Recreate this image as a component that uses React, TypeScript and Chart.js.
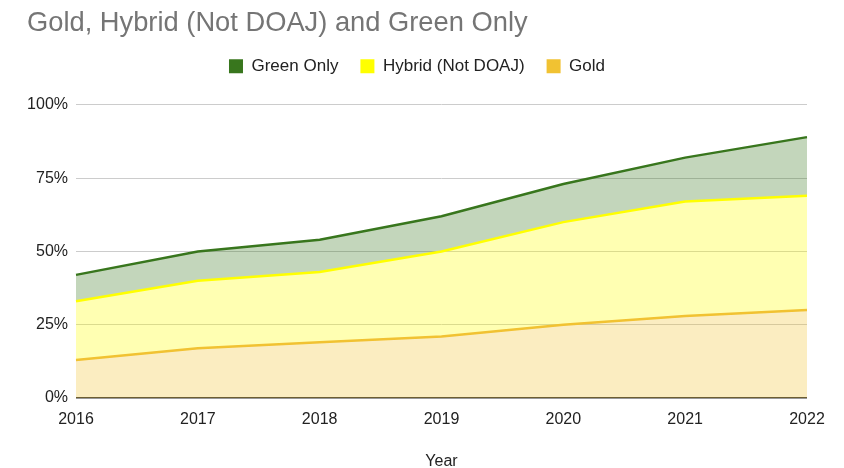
import React, { useEffect, useRef } from "react";
import { Chart, registerables } from "chart.js";

Chart.register(...registerables);

const years = ["2016", "2017", "2018", "2019", "2020", "2021", "2022"];
const goldValues = [13, 17, 19, 21, 25, 28, 30];
const hybridValues = [20, 23, 24, 29, 35, 39, 39];
const greenValues = [9, 10, 11, 12, 13, 15, 20];
const yTicks = [0, 25, 50, 75, 100];

const FONT = "'Liberation Sans', Arial, sans-serif";

export default function App() {
  const ref = useRef<HTMLCanvasElement | null>(null);
  useEffect(() => {
    if (!ref.current) return;
    const chart = new Chart(ref.current, {
      type: "line",
      data: {
        labels: years,
        datasets: [
          {
            label: "Gold",
            data: goldValues,
            borderColor: "#f1c232",
            backgroundColor: "rgba(241,194,50,0.3)",
            fill: "origin",
            borderWidth: 2.5,
            pointRadius: 0,
            tension: 0,
          },
          {
            label: "Hybrid (Not DOAJ)",
            data: hybridValues,
            borderColor: "#ffff00",
            backgroundColor: "rgba(255,255,0,0.3)",
            fill: "-1",
            borderWidth: 2.5,
            pointRadius: 0,
            tension: 0,
          },
          {
            label: "Green Only",
            data: greenValues,
            borderColor: "#38761d",
            backgroundColor: "rgba(56,118,29,0.3)",
            fill: "-1",
            borderWidth: 2.5,
            pointRadius: 0,
            tension: 0,
          },
        ],
      },
      options: {
        responsive: false,
        animation: false,
        layout: { padding: { left: 27, right: 37, top: 0, bottom: 0 } },
        plugins: {
          title: {
            display: true,
            text: "Gold, Hybrid (Not DOAJ) and Green Only",
            align: "start",
            color: "#757575",
            font: { family: FONT, size: 27.3, weight: "normal", lineHeight: 0.9 },
            padding: { top: 11.3, bottom: 0 },
          },
          subtitle: {
            display: true,
            text: "",
            weight: 500,
            font: { size: 1, lineHeight: 1 },
            padding: { top: 0, bottom: 19 },
          },
          legend: {
            display: true,
            reverse: true,
            labels: {
              color: "#222",
              font: { family: FONT, size: 17 },
              boxWidth: 14,
              boxHeight: 14,
              padding: 22,
              generateLabels: (c: any) => {
                const items = Chart.defaults.plugins.legend.labels.generateLabels(c);
                return items.map((it: any) => ({
                  ...it,
                  fillStyle: c.data.datasets[it.datasetIndex].borderColor,
                  strokeStyle: c.data.datasets[it.datasetIndex].borderColor,
                  lineWidth: 0,
                }));
              },
            },
          },
          tooltip: { enabled: false },
        },
        scales: {
          x: {
            offset: false,
            grid: { display: false },
            border: { display: false },
            ticks: {
              color: "#222",
              font: { family: FONT, size: 16 },
              padding: 4,
              maxRotation: 0,
            },
            title: {
              display: true,
              text: "Year",
              color: "#222",
              font: { family: FONT, size: 16 },
              padding: { top: 20, bottom: -3 },
            },
            afterFit: (s: any) => {
              s.height = 70;
            },
          },
          y: {
            stacked: true,
            min: 0,
            max: 100,
            afterBuildTicks: (s: any) => {
              s.ticks = yTicks.map((v) => ({ value: v }));
            },
            grid: {
              color: (ctx: any) => (ctx.tick && ctx.tick.value === 0 ? "#333" : "#cccccc"),
              lineWidth: (ctx: any) => (ctx.tick && ctx.tick.value === 0 ? 1.5 : 1),
              drawTicks: false,
            },
            border: { display: false },
            ticks: {
              color: "#222",
              font: { family: FONT, size: 16 },
              padding: 8,
              callback: (v: any) => v + "%",
            },
            afterFit: (s: any) => {
              s.width = 49;
            },
          },
        },
      },
    });
    return () => chart.destroy();
  }, []);
  return (
    <div style={{ position: "absolute", left: 0, top: 0, width: 844, height: 468, background: "#fff" }}>
      <canvas ref={ref} width={844} height={468} />
    </div>
  );
}
